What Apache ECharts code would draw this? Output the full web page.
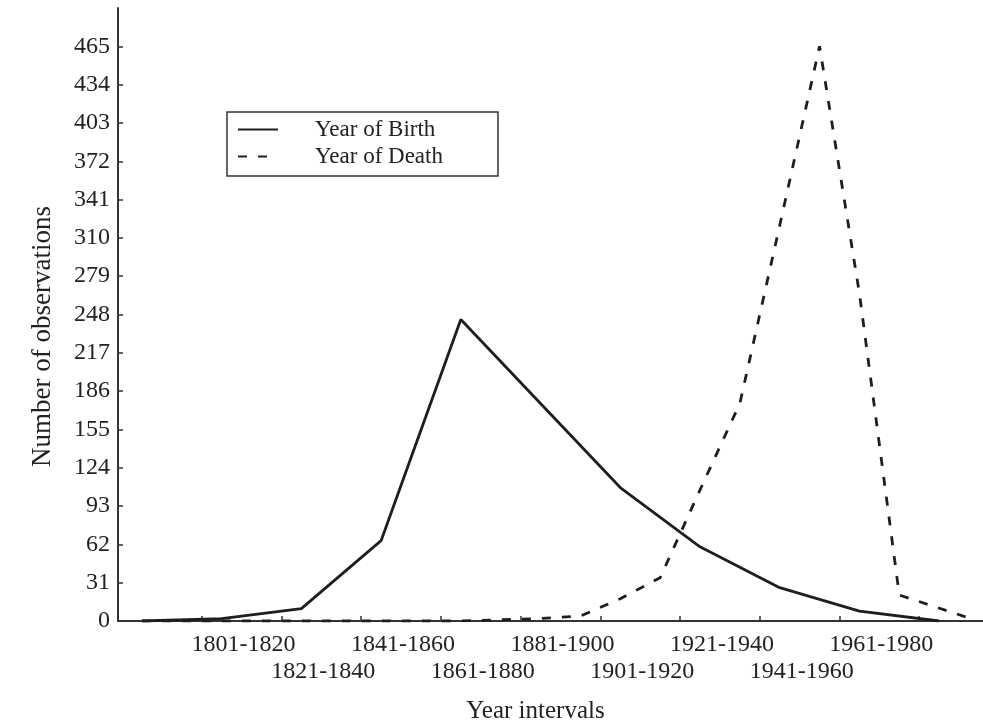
<!DOCTYPE html>
<html><head><meta charset="utf-8">
<script src="https://cdn.jsdelivr.net/npm/echarts@6/dist/echarts.min.js"></script>
<style>html,body{margin:0;padding:0;background:#fff}#chart{width:983px;height:723px}</style>
</head><body><div id="chart"></div>
<script>
// ---- data ----
const birthYears  = [1785, 1805, 1825, 1845, 1865, 1885, 1905, 1925, 1945, 1965, 1985];
const birthCounts = [0, 2, 10, 65, 244, 176, 108, 60, 27, 8, 0];

const deathYears  = [1785, 1795, 1805, 1815, 1825, 1835, 1845, 1855, 1865, 1875, 1885, 1895, 1905, 1915, 1925, 1935, 1945, 1955, 1965, 1975, 1992];
const deathCounts = [0, 0, 0, 0, 0, 0, 0, 0, 0, 1, 2, 4, 18, 35, 106, 176, 320, 465, 265, 21, 3];

const intervalLabels  = ['1801-1820', '1821-1840', '1841-1860', '1861-1880', '1881-1900', '1901-1920', '1921-1940', '1941-1960', '1961-1980'];
const intervalCenters = [1810.5, 1830.5, 1850.5, 1870.5, 1890.5, 1910.5, 1930.5, 1950.5, 1970.5];
const xTickValues     = [1800, 1820, 1840, 1860, 1880, 1900, 1920, 1940, 1960, 1980];
const yTickValues     = [0, 31, 62, 93, 124, 155, 186, 217, 248, 279, 310, 341, 372, 403, 434, 465];

const seriesNames = ['Year of Birth', 'Year of Death'];

const FONT = '"Liberation Serif", "DejaVu Serif", serif';
const INK = '#1e1e1e';

// labels alternate between two rows
const upperRow = intervalCenters.filter((c, i) => i % 2 === 0);
const lowerRow = intervalCenters.filter((c, i) => i % 2 === 1);
function labelFor(v) {
  const i = intervalCenters.findIndex(c => Math.abs(c - v) < 0.01);
  return i < 0 ? '' : intervalLabels[i];
}
const labelFont = { fontFamily: FONT, fontSize: 24, color: '#222' };

const chart = echarts.init(document.getElementById('chart'));
chart.setOption({
  backgroundColor: '#ffffff',
  animation: false,
  grid: { left: 118, right: 0, top: 8, bottom: 102, containLabel: false, outerBoundsMode: 'none' },
  legend: {
    orient: 'vertical',
    left: 227, top: 112,
    data: seriesNames,
    itemWidth: 40, itemHeight: 14, itemGap: 0,
    padding: [4, 55, 6, 10],
    borderColor: '#333', borderWidth: 1.5,
    itemStyle: { opacity: 0 },
    textStyle: { fontFamily: FONT, fontSize: 23, color: '#222', lineHeight: 27, padding: [0, 0, 0, 32] }
  },
  xAxis: [
    {
      type: 'value',
      min: 1779, max: 1996,
      position: 'bottom',
      name: 'Year intervals',
      nameLocation: 'middle',
      nameGap: 78,
      nameTextStyle: { fontFamily: FONT, fontSize: 25, color: '#222', padding: [0, 30, 0, 0] },
      axisLine: { show: true, lineStyle: { color: '#333', width: 2 } },
      axisTick: { show: true, inside: true, length: 5, customValues: xTickValues, lineStyle: { color: '#333', width: 1.5 } },
      axisLabel: Object.assign({
        customValues: upperRow,
        showMinLabel: true, showMaxLabel: true, hideOverlap: false,
        margin: 12,
        formatter: labelFor
      }, labelFont),
      splitLine: { show: false }
    },
    {
      type: 'value',
      min: 1779, max: 1996,
      position: 'bottom',
      axisLine: { show: false },
      axisTick: { show: false },
      axisLabel: Object.assign({
        customValues: lowerRow,
        showMinLabel: true, showMaxLabel: true, hideOverlap: false,
        margin: 39,
        formatter: labelFor
      }, labelFont),
      splitLine: { show: false }
    }
  ],
  yAxis: {
    type: 'value',
    min: 0, max: 496, interval: 31,
    name: 'Number of observations',
    nameLocation: 'middle',
    nameGap: 62,
    nameRotate: 90,
    nameTextStyle: { fontFamily: FONT, fontSize: 27, color: '#222', padding: [0, 44, 0, 0] },
    axisLine: { show: true, lineStyle: { color: '#333', width: 2 } },
    axisTick: { show: true, inside: true, length: 5, customValues: yTickValues, lineStyle: { color: '#333', width: 1.5 } },
    axisLabel: Object.assign({
      customValues: yTickValues,
      showMinLabel: true, showMaxLabel: true,
      margin: 8
    }, labelFont),
    splitLine: { show: false }
  },
  series: [
    {
      name: seriesNames[0],
      type: 'line',
      xAxisIndex: 0,
      symbol: 'none',
      data: birthYears.map((y, i) => [y, birthCounts[i]]),
      lineStyle: { color: INK, width: 2.8 },
      itemStyle: { color: INK },
      z: 3
    },
    {
      name: seriesNames[1],
      type: 'line',
      xAxisIndex: 0,
      symbol: 'none',
      data: deathYears.map((y, i) => [y, deathCounts[i]]),
      lineStyle: { color: INK, width: 2.8, type: [9, 11] },
      itemStyle: { color: INK },
      z: 2
    }
  ]
});
</script>
</body></html>
